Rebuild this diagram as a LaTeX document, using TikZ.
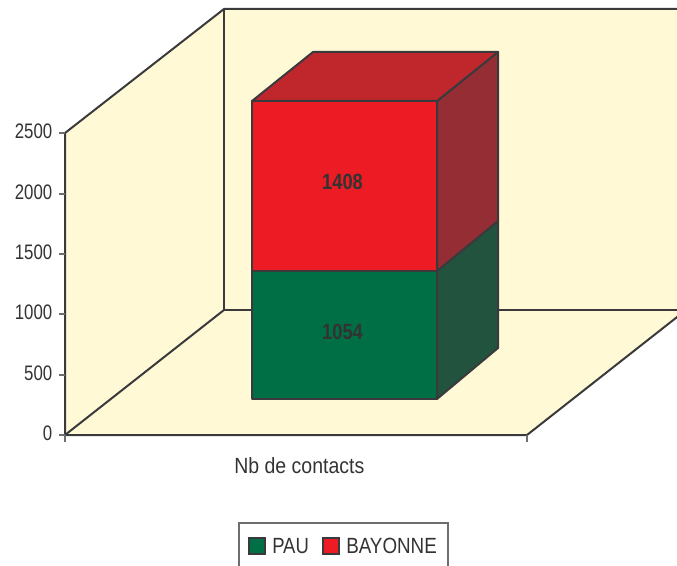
\documentclass[tikz,border=0pt]{standalone}
\usepackage{fontspec}
\usepackage{graphicx}
\setmainfont{Liberation Sans}
\definecolor{wallc}{RGB}{255,249,214}
\definecolor{linec}{RGB}{58,58,60}
\definecolor{tickc}{RGB}{110,110,110}
\definecolor{txtc}{RGB}{51,51,51}
\definecolor{redfront}{RGB}{237,28,36}
\definecolor{redtop}{RGB}{192,39,45}
\definecolor{redside}{RGB}{149,45,52}
\definecolor{greenfront}{RGB}{0,111,69}
\definecolor{greenside}{RGB}{33,83,62}
\newcommand{\narrowtxt}[2]{\scalebox{#1}[1]{#2}}
\begin{document}
\begin{tikzpicture}[x=0.75pt,y=-0.75pt,
  edge/.style={draw=linec,line width=1.5pt,line join=round},
  face/.style={draw=linec,line width=1.5pt,line join=round},
  tickline/.style={draw=tickc,line width=1pt},
  axislabel/.style={anchor=east,inner sep=0pt,text=txtc,font=\fontsize{15.75}{18}\selectfont},
  barlabel/.style={inner sep=0pt,text=txtc,font=\fontsize{16.5}{19}\selectfont\bfseries},
  legtext/.style={anchor=base west,inner sep=0pt,text=txtc,font=\fontsize{16.5}{19}\selectfont},
  legsq/.style={draw=linec,line width=1.2pt}]
\useasboundingbox (0,0) rectangle (677,566);
\clip (0,0) rectangle (677,566);
% walls and floor
\fill[wallc] (65,133) -- (224,9) -- (224,310) -- (65,435) -- cycle;
\fill[wallc] (224,9) -- (700,9) -- (700,310) -- (224,310) -- cycle;
\fill[wallc] (65,435) -- (224,310) -- (686,310) -- (527,435) -- cycle;
\draw[edge] (65,133) -- (224,9) -- (700,9);
\draw[edge] (224,9) -- (224,310) -- (700,310);
\draw[edge] (65,435) -- (224,310);
\draw[edge] (65,133) -- (65,435) -- (527,435) -- (686,310);
% ticks and value labels
\foreach \y/\v in {133/2500,194/2000,254/1500,314/1000,375/500,435/0}{
  \draw[tickline] (59,\y) -- (65,\y);
  \node[axislabel] (lab\v) at (52.5,\y-2) {\narrowtxt{0.8}{\v}};
}
\draw[tickline] (65,435) -- (65,442);
\draw[tickline] (527,435) -- (527,442);
% bar: green (PAU)
\fill[greenside,face] (437,271) -- (498,221) -- (498,348) -- (437,399) -- cycle;
\fill[greenfront,face] (252,271) rectangle (437,399);
% bar: red (BAYONNE)
\fill[redside,face] (437,101) -- (498,52) -- (498,221) -- (437,271) -- cycle;
\fill[redtop,face] (252,101) -- (313,52) -- (498,52) -- (437,101) -- cycle;
\fill[redfront,face] (252,101) rectangle (437,271);
\node[barlabel] (v1408) at (342.5,181.5) {\narrowtxt{0.83}{1408}};
\node[barlabel] (v1054) at (342.5,331.5) {\narrowtxt{0.83}{1054}};
% category label
\node[anchor=base west,inner sep=0pt,text=txtc,font=\fontsize{16.5}{19}\selectfont] (cat) at (234,473) {\narrowtxt{0.886}{Nb de contacts}};
% legend
\draw[draw=tickc,line width=1pt] (239,580) -- (239,523) -- (448,523) -- (448,580);
\fill[greenfront,legsq] (249,538) rectangle (265,554);
\node[legtext] (pau) at (272,553) {\narrowtxt{0.84}{PAU}};
\fill[redfront,legsq] (323,538) rectangle (339,554);
\node[legtext] (bay) at (346,553) {\narrowtxt{0.855}{BAYONNE}};
\end{tikzpicture}
\end{document}
